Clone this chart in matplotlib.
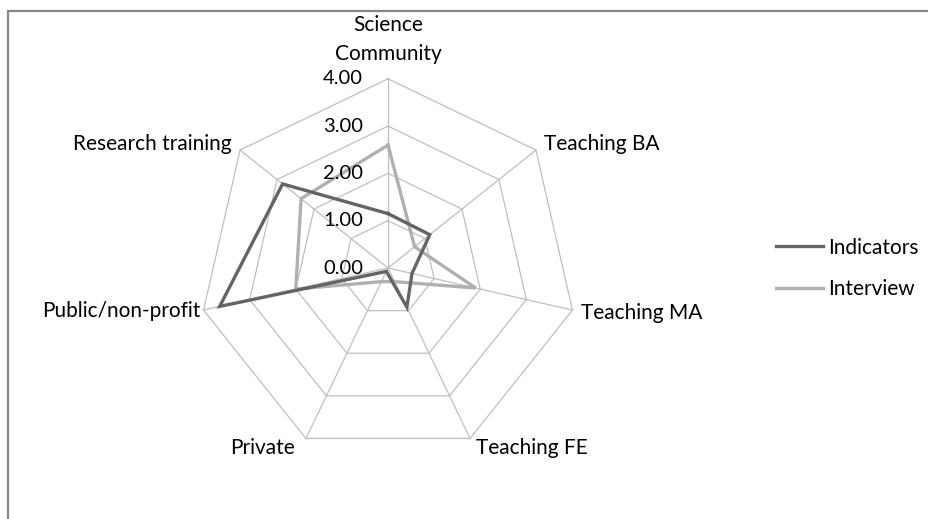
import numpy as np
import matplotlib
matplotlib.use('Agg')
import matplotlib.pyplot as plt
from matplotlib.patches import Rectangle

plt.rcParams['font.family'] = ['Lato', 'DejaVu Sans']

categories = ['Science\nCommunity', 'Teaching BA', 'Teaching MA', 'Teaching FE',
              'Private', 'Public/non-profit', 'Research training']
indicators = [1.15, 1.13, 0.52, 0.92, 0.08, 3.65, 2.85]
interview = [2.60, 0.72, 1.90, 0.32, 0.32, 2.00, 2.35]
rings = [0, 1, 2, 3, 4]
ring_labels = ['0.00', '1.00', '2.00', '3.00', '4.00']

W, H = 929, 519
cx, cy = 388, 268      # centre of radar in pixels
pxu = 47.3             # pixels per unit
fs = 15

fig = plt.figure(figsize=(W / 100, H / 100), dpi=100)
ax = fig.add_axes([0, 0, 1, 1])
ax.set_xlim(-cx / pxu, (W - cx) / pxu)
ax.set_ylim(-(H - cy) / pxu, cy / pxu)
ax.axis('off')

n = len(categories)
ang = np.arange(n) * 2 * np.pi / n


def xy(vals):
    v = np.asarray(vals, dtype=float)
    v = np.append(v, v[0])
    a = np.append(ang, ang[0])
    return v * np.sin(a), v * np.cos(a)


# grid: heptagons and spokes
gridcol = '#bfbfbf'
for r in rings[1:]:
    gx, gy = xy([r] * n)
    ax.plot(gx, gy, color=gridcol, lw=0.9, zorder=1)
for a in ang:
    ax.plot([0, rings[-1] * np.sin(a)], [0, rings[-1] * np.cos(a)], color=gridcol, lw=0.9, zorder=1)

# value labels along the top axis
for r, lab in zip(rings, ring_labels):
    ax.annotate(lab, xy=(0, r), xytext=(-18, 0), textcoords='offset points',
                ha='right', va='center', fontsize=fs - 0.5, color='black')

# category labels
offs = [(0, 11), (6, 4), (6, -2), (4, -7), (-8, -7), (-2, -1), (-6, 4)]
has = ['center', 'left', 'left', 'left', 'right', 'right', 'right']
vas = ['bottom', 'center', 'center', 'center', 'center', 'center', 'center']
for i, lab in enumerate(categories):
    vx, vy = rings[-1] * np.sin(ang[i]), rings[-1] * np.cos(ang[i])
    ax.annotate(lab, xy=(vx, vy), xytext=offs[i], textcoords='offset points',
                ha=has[i], va=vas[i], fontsize=fs, linespacing=1.55, color='black')

x1, y1 = xy(indicators)
x2, y2 = xy(interview)
ax.plot(x1, y1, color='#646464', lw=2.4, label='Indicators', zorder=3, solid_joinstyle='miter')
ax.plot(x2, y2, color='#b0b0b0', lw=2.4, label='Interview', zorder=2, solid_joinstyle='miter')

ax.legend(loc='center left', bbox_to_anchor=(776 / W, 1 - 268.5 / H), bbox_transform=fig.transFigure,
          frameon=False, fontsize=fs, handlelength=2.25, handletextpad=0.25, labelspacing=1.05,
          borderpad=0, borderaxespad=0)

# chart border (only top and left visible)
fig.patches.append(Rectangle((8 / W, -0.1), 1.2, 1 - 11 / H + 0.1, transform=fig.transFigure,
                             fill=False, edgecolor='#868686', lw=1.6))

fig.savefig('out.png', dpi=100)
